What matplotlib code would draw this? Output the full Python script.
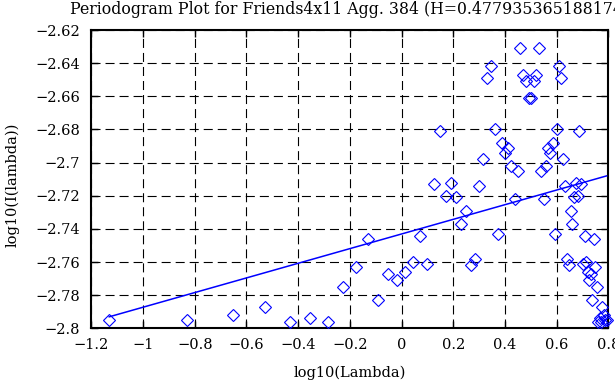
import matplotlib
matplotlib.use("Agg")
import matplotlib.pyplot as plt
from matplotlib.ticker import FuncFormatter, MultipleLocator

plt.rcParams['font.family'] = ['DejaVu Serif', 'Liberation Serif']
plt.rcParams['lines.scale_dashes'] = False

# periodogram points (log10 of frequency, log10 of intensity)
log_lambda = [
    -1.131, -0.830, -0.654, -0.529, -0.432, -0.353, -0.286, -0.228, -0.177, -0.131,
    -0.090, -0.052, -0.017, 0.015, 0.045, 0.073, 0.099, 0.124, 0.148, 0.170,
    0.191, 0.211, 0.230, 0.249, 0.267, 0.284, 0.300, 0.316, 0.331, 0.346,
    0.360, 0.374, 0.387, 0.400, 0.413, 0.425, 0.437, 0.449, 0.460, 0.471,
    0.482, 0.492, 0.502, 0.512, 0.522, 0.532, 0.541, 0.550, 0.559, 0.568,
    0.576, 0.585, 0.593, 0.601, 0.609, 0.617, 0.625, 0.632, 0.640, 0.647,
    0.654, 0.661, 0.668, 0.675, 0.682, 0.688, 0.695, 0.701, 0.708, 0.714,
    0.720, 0.726, 0.732, 0.738, 0.744, 0.750, 0.755, 0.761, 0.766, 0.772,
    0.777, 0.783, 0.788, 0.793,
]
log_I = [
    -2.795, -2.795, -2.792, -2.787, -2.796, -2.794, -2.796, -2.775, -2.763, -2.746,
    -2.783, -2.767, -2.771, -2.766, -2.760, -2.744, -2.761, -2.713, -2.681, -2.720,
    -2.712, -2.721, -2.737, -2.729, -2.762, -2.758, -2.714, -2.698, -2.649, -2.642,
    -2.680, -2.743, -2.688, -2.694, -2.691, -2.702, -2.722, -2.705, -2.631, -2.647,
    -2.651, -2.661, -2.661, -2.651, -2.647, -2.631, -2.705, -2.722, -2.702, -2.691,
    -2.694, -2.688, -2.743, -2.680, -2.642, -2.649, -2.698, -2.714, -2.758, -2.762,
    -2.729, -2.737, -2.721, -2.712, -2.720, -2.681, -2.713, -2.761, -2.744, -2.760,
    -2.766, -2.771, -2.767, -2.783, -2.746, -2.763, -2.775, -2.796, -2.794, -2.796,
    -2.787, -2.792, -2.795, -2.795,
]

# fitted regression line
fit_x = [-1.131, 0.793]
fit_y = [-2.793, -2.708]

title = "Periodogram Plot for Friends4x11 Agg. 384 (H=0.4779353651881745)"

fig = plt.figure(figsize=(6.15, 3.85), dpi=100)
ax = fig.add_axes([0.1486, 0.147, 0.8406, 0.775])

ax.plot(log_lambda, log_I, linestyle='none', marker='D', markersize=6.4,
        markerfacecolor='none', markeredgecolor='#0000ff', markeredgewidth=0.8,
        clip_on=False, zorder=3)
ax.plot(fit_x, fit_y, color='#0000ff', linewidth=1.1, zorder=4)

ax.set_xlim(-1.2, 0.8)
ax.set_ylim(-2.8, -2.62)
ax.xaxis.set_major_locator(MultipleLocator(0.2))
ax.yaxis.set_major_locator(MultipleLocator(0.02))
fmt = FuncFormatter(lambda v, p: ('%g' % round(v, 4)).replace('-', '\u2212'))
ax.xaxis.set_major_formatter(fmt)
ax.yaxis.set_major_formatter(fmt)

ax.grid(True, color='black', linewidth=0.8, linestyle=(0, (6.5, 3.6)))
ax.tick_params(direction='in', length=5, width=1, top=True, right=True,
               labelsize=10.5, colors='black')
ax.tick_params(axis='y', pad=8)
ax.tick_params(axis='x', pad=7)
for s in ax.spines.values():
    s.set_linewidth(1.5)

ax.set_xlabel("log10(Lambda)", fontsize=10.5)
ax.set_ylabel("log10(I(lambda))", fontsize=10.5)
ax.xaxis.set_label_coords(0.5, -0.125)
ax.yaxis.set_label_coords(-0.138, 0.48)
fig.text(70 / 615, 1 - 9 / 385, title, fontsize=11.3, ha='left', va='center')

fig.savefig("out.png", dpi=100)
